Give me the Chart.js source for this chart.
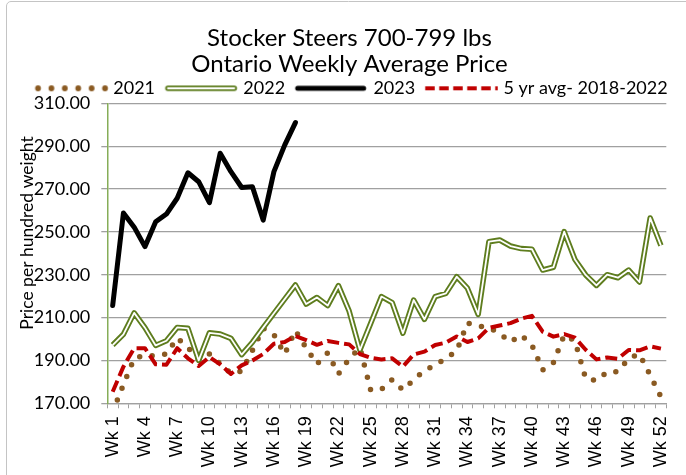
<!DOCTYPE html>
<html><head><meta charset="utf-8">
<script src="https://cdn.jsdelivr.net/npm/chart.js@4.4.1/dist/chart.umd.min.js"></script>
<style>html,body{margin:0;padding:0;background:#fff;overflow:hidden}canvas{display:block}</style>
</head><body>
<canvas id="c" width="686" height="475"></canvas>
<script>
const weeks = ['Wk 1','Wk 2','Wk 3','Wk 4','Wk 5','Wk 6','Wk 7','Wk 8','Wk 9','Wk 10','Wk 11','Wk 12','Wk 13',
  'Wk 14','Wk 15','Wk 16','Wk 17','Wk 18','Wk 19','Wk 20','Wk 21','Wk 22','Wk 23','Wk 24','Wk 25','Wk 26',
  'Wk 27','Wk 28','Wk 29','Wk 30','Wk 31','Wk 32','Wk 33','Wk 34','Wk 35','Wk 36','Wk 37','Wk 38','Wk 39',
  'Wk 40','Wk 41','Wk 42','Wk 43','Wk 44','Wk 45','Wk 46','Wk 47','Wk 48','Wk 49','Wk 50','Wk 51','Wk 52'];

const y2021 = [166, 178.7, 191, 192.5, 192, 193, 200.5, 196, 190.5, 193, 188.4, 184, 185,
  194.7, 205, 202, 193, 204, 195.8, 188.3, 193.5, 183.7, 190.7, 196, 176.1, 176.5,
  181.1, 176.2, 180.9, 185.3, 187.8, 191, 194.4, 207.5, 206, 205.4, 202.6, 198.6, 201.9,
  197.2, 185.5, 189, 201.9, 199.1, 181.6, 180.6, 184.6, 184.7, 190.9, 193, 183.1, 173];

const y2022 = [197.2, 202.2, 212.2, 205.3, 197, 199.2, 205.4, 205, 190, 202.9, 202.3, 200.3, 192.7,
  198.5, 205.3, 212, 218.6, 225.2, 216.3, 219.4, 215.6, 224.9, 213, 194.9, 207.3, 219.8,
  217, 202.7, 218.2, 209.2, 219.8, 221.3, 229.1, 223.7, 211.5, 245.4, 246.2, 243.4, 242.2,
  241.9, 232.2, 233.5, 250.1, 237.1, 229.9, 225, 230, 228.6, 232.2, 226.6, 256.5, 243.6];

const y2023 = [215.6, 258.8, 252.2, 243.1, 254.7, 258.3, 265.7, 277.6, 273.4, 263.6, 286.7, 278.1, 270.7,
  271.1, 255.5, 278.1, 290.5, 301];

const avg5yr = [175.4, 187.1, 195.7, 195.7, 188.2, 188, 195.7, 191, 187.4, 191.6, 188.2, 183.7, 187.7,
  190, 193, 197.8, 198.6, 201.4, 199.5, 197.3, 199.1, 198.2, 197.5, 193, 191.2, 190.4,
  191, 187.1, 192.8, 194.1, 197.2, 198.3, 201.2, 198.6, 200.3, 205.2, 206.3, 207.4, 209.5,
  210.8, 203.4, 201.1, 202.3, 200.6, 195, 190.5, 191.4, 190.8, 194.9, 194.7, 196.6, 195.5];

const yTicks = [170, 190, 210, 230, 250, 270, 290, 310];
const seriesNames = ['2021', '2022', '2023', '5 yr avg- 2018-2022'];
const titleLines = ['Stocker Steers 700-799 lbs', 'Ontario Weekly Average Price'];
const yTitle = 'Price per hundred weight';

const BROWN = '#8A5A22', OLIVE = '#5E7D1E', RED = '#C00000', GRID = '#a0a0a0';

const M0 = 18.35; // marker start inside the legend swatch canvas
function mark(draw) {
  const c = document.createElement('canvas');
  c.width = 96; c.height = 10;
  draw(c.getContext('2d'));
  return c;
}
const legendMarks = {
  0: mark(g => { g.fillStyle = BROWN; for (let k = 0; k < 6; k++) { g.beginPath(); g.arc(M0 + 3 + 13.4 * k, 5, 2.9, 0, Math.PI * 2); g.fill(); } }),
  1: mark(g => { g.lineCap = 'round'; g.strokeStyle = OLIVE; g.lineWidth = 5.5; g.beginPath(); g.moveTo(M0 + 2.8, 5); g.lineTo(M0 + 69.2, 5); g.stroke();
                 g.strokeStyle = '#fff'; g.lineWidth = 1.8; g.beginPath(); g.moveTo(M0 + 2.8, 5); g.lineTo(M0 + 69.2, 5); g.stroke(); }),
  3: mark(g => { g.lineCap = 'round'; g.strokeStyle = '#000'; g.lineWidth = 5; g.beginPath(); g.moveTo(M0 + 2.5, 5); g.lineTo(M0 + 68.5, 5); g.stroke(); }),
  4: mark(g => { g.strokeStyle = RED; g.lineWidth = 4; g.setLineDash([9.5, 4.5]); g.beginPath(); g.moveTo(M0, 5); g.lineTo(M0 + 72.5, 5); g.stroke(); })
};

const frame = {
  id: 'frame',
  beforeDraw(chart) {
    const ctx = chart.ctx;
    ctx.save();
    ctx.strokeStyle = '#c4c4c4'; ctx.lineWidth = 1;
    ctx.beginPath(); ctx.moveTo(6.5, 475); ctx.lineTo(6.5, 6); ctx.arcTo(6.5, 1.5, 11, 1.5, 4.5); ctx.lineTo(686, 1.5); ctx.stroke();
    ctx.restore();
  }
};
const legendShift = {
  id: 'legendShift',
  afterLayout(chart) { if (chart.legend) { chart.legend.top += 4; chart.legend.bottom += 4; } }
};
// Axis title placed like the original (centred a little above the plot's middle)
const yAxisTitle = {
  id: 'yAxisTitle',
  afterDraw(chart) {
    const ctx = chart.ctx;
    ctx.save();
    ctx.translate(27, 233);
    ctx.rotate(-Math.PI / 2);
    ctx.font = '17.5px Lato';
    ctx.fillStyle = '#000';
    ctx.textAlign = 'center';
    ctx.textBaseline = 'middle';
    ctx.fillText(yTitle, 0, 0);
    ctx.restore();
  }
};

const defaultGen = Chart.defaults.plugins.legend.labels.generateLabels;

new Chart(document.getElementById('c'), {
  type: 'line',
  data: {
    labels: weeks,
    datasets: [
      { label: seriesNames[0], data: y2021, borderColor: BROWN, borderWidth: 5.5, borderDash: [0, 12.7], borderCapStyle: 'round', borderJoinStyle: 'round', pointRadius: 0, fill: false, order: 4 },
      { label: seriesNames[1], data: y2022, borderColor: OLIVE, borderWidth: 5.5, borderJoinStyle: 'round', pointRadius: 0, fill: false, order: 3 },
      { label: seriesNames[1] + ' inner', data: y2022, borderColor: '#ffffff', borderWidth: 1.8, borderJoinStyle: 'round', pointRadius: 0, fill: false, order: 2 },
      { label: seriesNames[2], data: y2023, borderColor: '#000000', borderWidth: 5, borderJoinStyle: 'round', borderCapStyle: 'round', pointRadius: 0, fill: false, order: 1 },
      { label: seriesNames[3], data: avg5yr, borderColor: RED, borderWidth: 4, borderDash: [12, 5], borderJoinStyle: 'round', pointRadius: 0, fill: false, order: 0 }
    ]
  },
  options: {
    responsive: false,
    animation: false,
    events: [],
    devicePixelRatio: 1,
    layout: { padding: { left: 25, right: 12, top: 0, bottom: 0 } },
    plugins: {
      tooltip: { enabled: false },
      title: {
        display: true, text: titleLines, color: '#000',
        font: { family: 'Lato', size: 24, weight: 'normal', lineHeight: 26 / 24 },
        padding: { top: 25, bottom: -1.7 }
      },
      legend: {
        display: true, position: 'top', align: 'start',
        labels: {
          color: '#000', font: { family: 'Lato', size: 18 },
          usePointStyle: true, pointStyleWidth: 79.3, boxHeight: 10, padding: 0,
          generateLabels(chart) {
            return defaultGen(chart)
              .filter(it => it.datasetIndex !== 2)
              .sort((a, b) => a.datasetIndex - b.datasetIndex)
              .map(it => { it.pointStyle = legendMarks[it.datasetIndex]; return it; });
          }
        }
      }
    },
    scales: {
      x: {
        offset: true,
        grid: { display: true, drawOnChartArea: false, offset: true, color: GRID, tickLength: 5, lineWidth: 1 },
        border: { color: GRID, width: 1.3 },
        ticks: {
          autoSkip: false, minRotation: 90, maxRotation: 90, padding: 8,
          color: '#000', font: { family: 'Liberation Sans', size: 18 },
          callback(v, i) { return i % 3 === 0 ? weeks[i] : ''; }
        },
        afterFit(s) { s.height = 475 - 403.3; s.paddingRight = 19.7; }
      },
      y: {
        min: yTicks[0], max: yTicks[yTicks.length - 1],
        grid: { color: GRID, lineWidth: 1.3, tickLength: 6 },
        border: { color: '#86ad58', width: 1.5 },
        ticks: {
          stepSize: 20, padding: 11, color: '#000', font: { family: 'Lato', size: 18 },
          callback(v) { return yTicks.includes(v) ? v.toFixed(2) : ''; }
        },
        title: { display: false, text: yTitle },
        afterFit(s) { s.width = 107.3 - 25; }
      }
    }
  },
  plugins: [frame, legendShift, yAxisTitle]
});
</script>
</body></html>
